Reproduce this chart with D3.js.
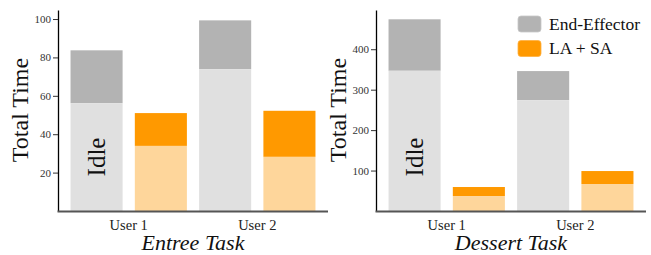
<!DOCTYPE html>
<html>
<head>
<meta charset="utf-8">
<script src="https://cdn.jsdelivr.net/npm/d3@7"></script>
<style>
  body { margin: 0; background: #fff; }
  text { font-family: "Liberation Serif", "DejaVu Serif", serif; }
</style>
</head>
<body>
<svg id="chart" width="651" height="255"></svg>
<script>
// data
var users = ["User 1", "User 2"];
var methods = ["End-Effector", "LA + SA"];

// Entree task: [idle part, active part on top]
var entreeIdle = [56.2, 33.9, 73.9, 28.2];
var entreeTotal = [83.7, 51.0, 99.3, 52.2];
var entreeTicks = [20, 40, 60, 80, 100];

// Dessert task
var dessertIdle = [346.7, 37, 274, 66.7];
var dessertTotal = [474, 59.3, 346, 98.8];
var dessertTicks = [100, 200, 300, 400];

var colorIdle = ["#e0e0e0", "#fed69b"];
var colorActive = ["#b3b3b3", "#ff9900"];

var svg = d3.select("#chart");

function makePanel(opt) {
    var g = svg.append("g");

    // one band per bar: user x method
    var keys = [];
    users.forEach(function (u) { methods.forEach(function (m) { keys.push(u + "|" + m); }); });

    var x = d3.scaleBand()
        .domain(keys)
        .range([opt.left, opt.right])
        .paddingInner(0.19)
        .paddingOuter(0.195);

    var y = d3.scaleLinear()
        .domain([0, opt.yMax])
        .range([opt.bottom, 10]);

    // bars
    keys.forEach(function (k, i) {
        var mi = i % 2;
        g.append("rect")
            .attr("x", x(k))
            .attr("width", x.bandwidth())
            .attr("y", y(opt.total[i]))
            .attr("height", y(opt.idle[i]) - y(opt.total[i]))
            .attr("fill", colorActive[mi]);
        g.append("rect")
            .attr("x", x(k))
            .attr("width", x.bandwidth())
            .attr("y", y(opt.idle[i]))
            .attr("height", y(0) - y(opt.idle[i]))
            .attr("fill", colorIdle[mi]);
    });

    // y axis
    var yAxis = g.append("g")
        .attr("transform", "translate(" + opt.left + ",0)")
        .call(d3.axisLeft(y).tickValues(opt.ticks).tickSize(5).tickPadding(2).tickSizeOuter(0));
    yAxis.select(".domain").attr("stroke", "#000").attr("stroke-width", 1.3);
    yAxis.selectAll(".tick line").attr("stroke", "#333");
    yAxis.selectAll(".tick text")
        .attr("fill", "#333")
        .style("font-size", "11px")
        .style("font-family", "'Liberation Serif', serif");

    // x axis line
    g.append("line")
        .attr("x1", opt.left - 0.5)
        .attr("x2", opt.lineEnd)
        .attr("y1", opt.bottom + 0.5)
        .attr("y2", opt.bottom + 0.5)
        .attr("stroke", "#555")
        .attr("stroke-width", 1.8);

    // group labels
    users.forEach(function (u) {
        var cx = (x(u + "|" + methods[0]) + x(u + "|" + methods[1]) + x.bandwidth()) / 2;
        g.append("text")
            .attr("x", cx)
            .attr("y", 230)
            .attr("text-anchor", "middle")
            .attr("fill", "#222")
            .style("font-size", "14.5px")
            .text(u);
    });

    // title
    g.append("text")
        .attr("x", (opt.left + opt.right) / 2)
        .attr("y", 250)
        .attr("text-anchor", "middle")
        .attr("fill", "#111")
        .style("font-size", "22px")
        .style("font-style", "italic")
        .text(opt.title);

    // y label
    g.append("text")
        .attr("transform", "translate(" + (opt.left - 30) + "," + 110 + ") rotate(-90)")
        .attr("text-anchor", "middle")
        .attr("fill", "#111")
        .style("font-size", "24px")
        .text("Total Time");

    // Idle label inside first bar
    var k0 = keys[0];
    g.append("text")
        .attr("transform", "translate(" + (x(k0) + x.bandwidth() / 2 + 8) + "," + 157 + ") rotate(-90)")
        .attr("text-anchor", "middle")
        .attr("fill", "#111")
        .style("font-size", "25px")
        .text("Idle");
}

makePanel({
    left: 58, right: 328, lineEnd: 328, bottom: 211,
    yMax: 104.7, idle: entreeIdle, total: entreeTotal,
    ticks: entreeTicks, title: "Entree Task"
});

makePanel({
    left: 376, right: 646, lineEnd: 646, bottom: 211,
    yMax: 497, idle: dessertIdle, total: dessertTotal,
    ticks: dessertTicks, title: "Dessert Task"
});

// legend
var legend = svg.append("g").attr("transform", "translate(518,16)");
methods.forEach(function (m, i) {
    legend.append("rect")
        .attr("x", 0)
        .attr("y", i * 24.5)
        .attr("width", 23)
        .attr("height", 16)
        .attr("rx", 3)
        .attr("fill", colorActive[i])
        .attr("stroke", i == 0 ? "#c8c8c8" : "#ffb040")
        .attr("stroke-width", 0.8);
    legend.append("text")
        .attr("x", 31)
        .attr("y", i * 24.5 + 13.5)
        .attr("fill", "#111")
        .style("font-size", "17.5px")
        .text(m);
});
</script>
</body>
</html>
